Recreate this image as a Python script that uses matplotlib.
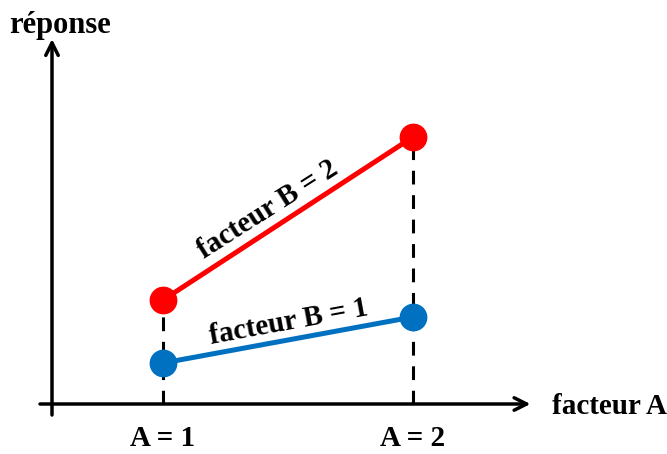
import matplotlib
matplotlib.use("Agg")
import matplotlib.pyplot as plt

levels_A = [1, 2]
tick_labels = ["A = 1", "A = 2"]
resp_B1 = [0.41, 0.87]
resp_B2 = [1.04, 2.67]
series_labels = ["facteur B = 1", "facteur B = 2"]
colors = ["#0070C0", "#FF0000"]

plt.rcParams['font.family'] = ['Liberation Serif', 'DejaVu Serif']
fig = plt.figure(figsize=(6.67, 4.54), dpi=100)
ax = fig.add_axes([0, 0, 1, 1])
ax.set_xlim(0.348, 3.016)
ax.set_ylim(-0.50, 4.04)
ax.axis('off')

# dashed guides
ax.plot([levels_A[0], levels_A[0]], [0, resp_B2[0]], color='black', lw=2.2,
        dashes=(4.5, 3.5), zorder=1)
ax.plot([levels_A[1], levels_A[1]], [0, resp_B2[1]], color='black', lw=2.2,
        dashes=(4.5, 3.5), zorder=1)

# axes arrows
ax.annotate('', xy=(2.47, 0), xytext=(0.508, 0),
            arrowprops=dict(arrowstyle='->,head_length=0.9,head_width=0.45', lw=2.5, color='black',
                            shrinkA=0, shrinkB=0))
ax.annotate('', xy=(0.556, 3.65), xytext=(0.556, -0.11),
            arrowprops=dict(arrowstyle='->,head_length=0.9,head_width=0.45', lw=2.5, color='black',
                            shrinkA=0, shrinkB=0))

# series
ax.plot(levels_A, resp_B2, color=colors[1], lw=3.6, marker='o', ms=19, zorder=3)
ax.plot(levels_A, resp_B1, color=colors[0], lw=3.6, marker='o', ms=19, zorder=3)

fs = 21
ax.text(1.42, 1.95, series_labels[1], rotation=32.5, ha='center', va='center',
        fontsize=fs, fontweight='bold', rotation_mode='anchor')
ax.text(1.504, 0.82, series_labels[0], rotation=10.4, ha='center', va='center',
        fontsize=fs, fontweight='bold', rotation_mode='anchor')

for x, t in zip(levels_A, tick_labels):
    ax.text(x, -0.35, t, ha='center', va='center', fontsize=fs, fontweight='bold')

ax.text(2.556, -0.02, "facteur A", ha='left', va='center', fontsize=fs, fontweight='bold')
ax.text(0.588, 3.79, "réponse", ha='center', va='center', fontsize=22, fontweight='bold')

fig.savefig("out.png", dpi=100)
